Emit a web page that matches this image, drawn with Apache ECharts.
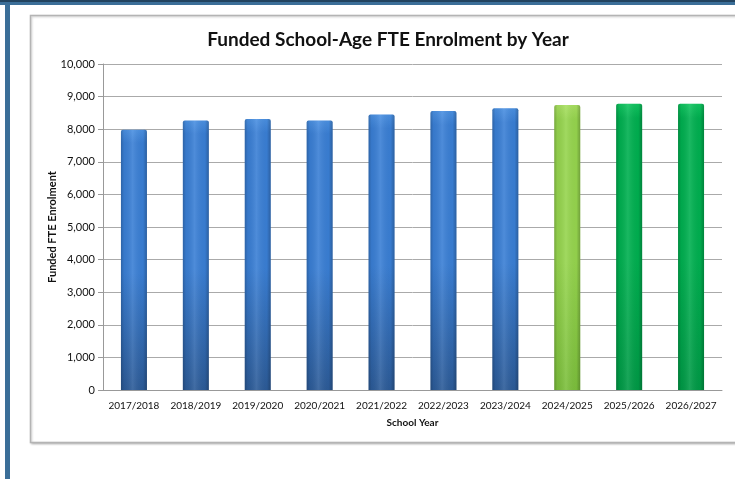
<!DOCTYPE html>
<html>
<head>
<meta charset="utf-8">
<script src="https://cdn.jsdelivr.net/npm/echarts@6/dist/echarts.min.js"></script>
<style>
html,body{margin:0;padding:0;background:#fff;}
#c{width:735px;height:479px;}
</style>
</head>
<body>
<div id="c"></div>
<script>
var categories = ['2017/2018','2018/2019','2019/2020','2020/2021','2021/2022','2022/2023','2023/2024','2024/2025','2025/2026','2026/2027'];
var enrolment = [7980, 8270, 8310, 8270, 8450, 8560, 8640, 8740, 8780, 8780];
var barKinds = ['actual','actual','actual','actual','actual','actual','actual','current','projected','projected'];
var yTicks = [0,1000,2000,3000,4000,5000,6000,7000,8000,9000,10000];

var palette = {
  actual: ['#4a90e2', '#3a7fd5', '#2c5b98'],
  current: ['#a8e060', '#96d54e', '#7cbf3c'],
  projected: ['#10c560', '#00b050', '#009a46']
};

function vgrad(kind){
  var p = palette[kind];
  return new echarts.graphic.LinearGradient(0,0,0,1,[
    {offset:0,color:p[0]},{offset:0.05,color:p[1]},{offset:0.55,color:p[1]},{offset:1,color:p[2]}
  ]);
}
var hOverlay = new echarts.graphic.LinearGradient(0,0,1,0,[
  {offset:0,color:'rgba(0,0,0,0.22)'},
  {offset:0.12,color:'rgba(0,0,0,0.05)'},
  {offset:0.45,color:'rgba(255,255,255,0.10)'},
  {offset:0.85,color:'rgba(0,0,0,0.03)'},
  {offset:1,color:'rgba(0,0,0,0.25)'}
]);

var baseData = enrolment.map(function(v,i){
  return {value:v, itemStyle:{color:vgrad(barKinds[i])}};
});

var chart = echarts.init(document.getElementById('c'), null, {renderer:'canvas'});
var font = 'Lato, "Open Sans", sans-serif';
chart.setOption({
  animation:false,
  backgroundColor:'#fff',
  graphic:[
    {type:'rect', shape:{x:0,y:0,width:735,height:5}, style:{fill:'#3b6e98'}, z:-1},
    {type:'rect', shape:{x:0,y:0,width:735,height:2}, style:{fill:'#22435f'}, z:-1},
    {type:'rect', shape:{x:5,y:3,width:5,height:476}, style:{fill:'#3b6e98'}, z:-1},
    {type:'rect', shape:{x:30.5,y:15.5,width:720,height:427}, style:{fill:'#fff',stroke:'#b4b4b4',lineWidth:1.5, shadowBlur:2, shadowColor:'rgba(0,0,0,0.2)', shadowOffsetX:1, shadowOffsetY:1}, z:-1}
  ],
  title:{
    text:'Funded School-Age FTE Enrolment by Year',
    left:383, top:25, textAlign:'center',
    textStyle:{fontFamily:font, fontSize:19, fontWeight:'bold', color:'#111'}
  },
  grid:{left:103, right:13, top:64, bottom:89, containLabel:false},
  xAxis:{
    type:'category', data:categories,
    name:'School Year', nameLocation:'middle', nameGap:28,
    nameTextStyle:{fontFamily:font, fontSize:10, fontWeight:'bold', color:'#111'},
    axisLine:{lineStyle:{color:'#999',width:1}},
    axisTick:{show:false},
    axisLabel:{fontFamily:font, fontSize:10, color:'#111', margin:11, interval:0}
  },
  yAxis:{
    type:'value', min:0, max:10000, interval:1000,
    name:'Funded FTE Enrolment', nameLocation:'middle', nameGap:45, nameRotate:90,
    nameMoveOverlap:false,
    nameTextStyle:{fontFamily:font, fontSize:11, fontWeight:'bold', color:'#111'},
    axisLine:{show:true, lineStyle:{color:'#999'}},
    axisTick:{show:true, length:5, inside:false, lineStyle:{color:'#999'}},
    splitLine:{lineStyle:{color:'#aaa',width:1}},
    axisLabel:{fontFamily:font, fontSize:11, color:'#111', margin:8,
      formatter:function(v){ return yTicks.indexOf(v)>=0 ? v.toLocaleString('en-US') : ''; }}
  },
  series:[
    {type:'bar', data:baseData, barWidth:26, itemStyle:{borderRadius:[2,2,0,0]}, z:2},
    {type:'bar', data:enrolment, barWidth:26, barGap:'-100%', itemStyle:{color:hOverlay, borderRadius:[2,2,0,0]}, z:3, silent:true}
  ]
});
</script>
</body>
</html>
